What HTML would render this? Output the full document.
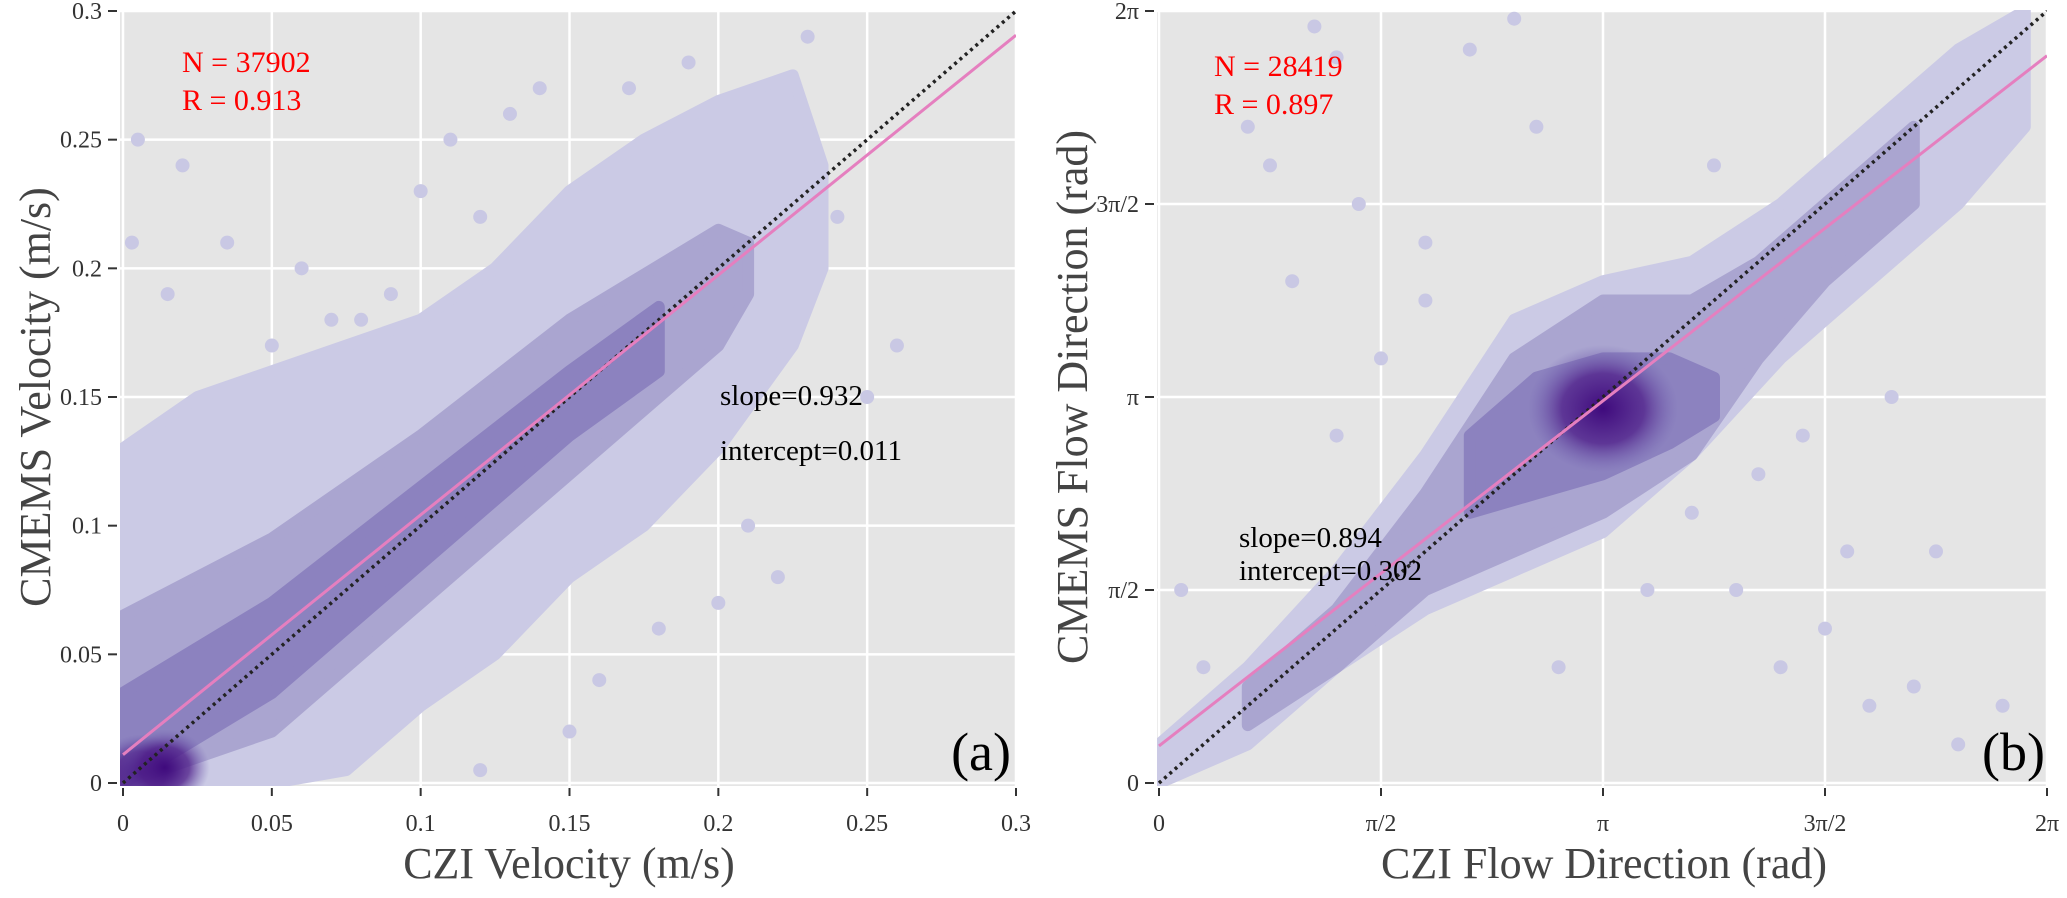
<!DOCTYPE html>
<html><head><meta charset="utf-8"><style>
body{margin:0;background:#fff}
svg{display:block;font-family:"Liberation Serif",serif}
</style></head><body>
<svg id="c" width="2067" height="898">
<defs>
<radialGradient id="dark"><stop offset="0" stop-color="#3f0a7d" stop-opacity="1"/><stop offset="0.55" stop-color="#52238c" stop-opacity="0.8"/><stop offset="1" stop-color="#7060b0" stop-opacity="0"/></radialGradient>
</defs>
</svg>
<script>
// ---- Panel (a) data (m/s) ----
const aTicks=[0,0.05,0.1,0.15,0.2,0.25,0.3];
const aTickLabels=["0","0.05","0.1","0.15","0.2","0.25","0.3"];
const aOuterX=[0,0.025,0.05,0.075,0.1,0.125,0.15,0.175,0.2,0.225,0.235];
const aOuterUp=[0.13,0.15,0.16,0.17,0.18,0.2,0.23,0.25,0.265,0.275,0.24];
const aOuterLo=[0,0,0,0.005,0.03,0.05,0.08,0.1,0.13,0.17,0.2];
const aMidX=[0,0.05,0.1,0.15,0.2,0.21];
const aMidUp=[0.065,0.095,0.135,0.18,0.215,0.21];
const aMidLo=[0,0.02,0.07,0.12,0.17,0.19];
const aCoreX=[0,0.05,0.1,0.15,0.18];
const aCoreUp=[0.035,0.07,0.115,0.16,0.185];
const aCoreLo=[0,0.035,0.085,0.135,0.16];
const aDarkX=[0.006,0.014];
const aDarkY=[0.004,0.006];
const aOutX=[0.015,0.02,0.035,0.06,0.08,0.1,0.12,0.13,0.05,0.09,0.14,0.17,0.19,0.2,0.215,0.22,0.23,0.12,0.15,0.16,0.18,0.21,0.005,0.003,0.11,0.14,0.07,0.025,0.04,0.24,0.25,0.26,0.22,0.2];
const aOutY=[0.19,0.24,0.21,0.2,0.18,0.23,0.22,0.26,0.17,0.19,0.27,0.27,0.28,0.25,0.24,0.26,0.29,0.005,0.02,0.04,0.06,0.1,0.25,0.21,0.25,0.21,0.18,0.06,0.125,0.22,0.15,0.17,0.08,0.07];
const aFit=[0.932,0.011];
// ---- Panel (b) data (units of pi) ----
const bTicks=[0,0.5,1,1.5,2];
const bTickLabels=["0","\u03c0/2","\u03c0","3\u03c0/2","2\u03c0"];
const bOuterX=[0,0.2,0.4,0.6,0.8,1.0,1.2,1.4,1.6,1.8,1.95];
const bOuterUp=[0.1,0.3,0.55,0.85,1.2,1.3,1.35,1.5,1.7,1.9,2];
const bOuterLo=[0,0.1,0.3,0.45,0.55,0.65,0.85,1.1,1.3,1.5,1.7];
const bMidX=[0.2,0.4,0.6,0.8,1.0,1.2,1.35,1.5,1.7];
const bMidUp=[0.25,0.45,0.75,1.1,1.25,1.25,1.35,1.5,1.7];
const bMidLo=[0.15,0.3,0.5,0.6,0.7,0.85,1.1,1.3,1.5];
const bCoreX=[0.7,0.85,1.0,1.15,1.25];
const bCoreUp=[0.9,1.05,1.1,1.1,1.05];
const bCoreLo=[0.7,0.75,0.8,0.88,0.95];
const bDarkX=[1.0];
const bDarkY=[0.97];
const bOutX=[0.1,0.2,0.35,0.4,0.45,0.6,0.7,0.8,1.3,1.4,1.5,1.6,1.7,1.75,1.8,1.9,0.3,0.4,0.25,0.5,0.6,0.9,1.1,1.2,1.45,1.65,1.35,0.15,0.05,1.25,1.55,0.85];
const bOutY=[0.3,1.7,1.96,1.88,1.5,1.4,1.9,1.98,0.5,0.3,0.4,0.2,0.25,0.6,0.1,0.2,1.3,0.9,1.6,1.1,1.25,0.3,0.5,0.7,0.9,1.0,0.8,0.15,0.5,1.6,0.6,1.7];
const bFit=[0.894,0.302];

const NS="http://www.w3.org/2000/svg";
const svg=document.getElementById('c');
function el(t,a,p){const e=document.createElementNS(NS,t);for(const k in a)e.setAttribute(k,a[k]);(p||svg).appendChild(e);return e;}

function panel(o){
  const g=el('g',{});
  
  
  const sx=v=>o.x0+(v-o.min)/(o.max-o.min)*(o.x1-o.x0);
  const sy=v=>o.y0-(v-o.min)/(o.max-o.min)*(o.y0-o.y1);
  const bg=el('rect',{x:o.gx0,y:o.y1-1,width:o.x1-o.gx0,height:o.y0+3-(o.y1-1),fill:'#e5e5e5'},g);
  
  
  o.ticks.forEach((t,i)=>{
    const gx=el('line',{x1:sx(t),x2:sx(t),y1:o.y1-1,y2:o.y0+3,stroke:'#fff','stroke-width':2.5},g);
    
    
    const gy=el('line',{x1:o.gx0,x2:o.x1,y1:sy(t),y2:sy(t),stroke:'#fff','stroke-width':2.5},g);
    
    
    el('line',{x1:sx(t),x2:sx(t),y1:o.y0+5,y2:o.y0+13,stroke:'#333','stroke-width':2},g);
    el('line',{x1:o.gx0-12,x2:o.gx0-3,y1:sy(t),y2:sy(t),stroke:'#333','stroke-width':2},g);
    const xl=el('text',{x:sx(t),y:o.y0+48,'font-size':24,'text-anchor':'middle',fill:'#333'},g);
    xl.textContent=o.labels[i];
    
    
    const yl=el('text',{x:o.gx0-18,y:sy(t)+8,'font-size':24,'text-anchor':'end',fill:'#333'},g);
    yl.textContent=o.labels[i];
    
    
  });
  const clip=el('clipPath',{id:'clip'+o.name},g);
  el('rect',{x:o.gx0,y:o.y1-1,width:o.x1-o.gx0,height:o.y0+4-o.y1},clip);
  const d=el('g',{'clip-path':'url(#clip'+o.name+')'},g);
  function band(X,U,L,col,name){
    let pts=X.map((x,i)=>sx(x)+','+sy(U[i]));
    pts=pts.concat(X.map((x,i)=>sx(x)+','+sy(L[i])).reverse());
    const p=el('polygon',{points:pts.join(' '),fill:col,stroke:col,'stroke-width':12,'stroke-linejoin':'round'},d);
    
    
  }
  o.outX.forEach((x,i)=>{
    const c=el('circle',{cx:sx(x),cy:sy(o.outY[i]),r:7,fill:'#c9c8e4'},d);
    
    
  });
  band(o.oX,o.oU,o.oL,'#cbcae5','density-outer');
  band(o.mX,o.mU,o.mL,'#aaa5d0','density-mid');
  band(o.cX,o.cU,o.cL,'#8c82bf','density-core');
  o.dX.forEach((x,i)=>{
    const c=el('ellipse',{cx:sx(x),cy:sy(o.dY[i]),rx:o.dr,ry:o.dr*0.85,fill:'url(#dark)'},d);
    
    
  });
  const one=el('line',{x1:sx(0),y1:sy(0),x2:sx(o.max),y2:sy(o.max),stroke:'#222','stroke-width':3.5,'stroke-dasharray':'3,4'},d);
  
  
  const f=el('line',{x1:sx(0),y1:sy(o.fit[1]),x2:sx(o.max),y2:sy(o.fit[0]*o.max+o.fit[1]),stroke:'#e57fbf','stroke-width':3},d);
  
  
  return g;
}

panel({name:'panel-a',x0:123,x1:1016,gx0:120,y0:783,y1:11,min:0,max:0.3,ticks:aTicks,labels:aTickLabels,
  oX:aOuterX,oU:aOuterUp,oL:aOuterLo,mX:aMidX,mU:aMidUp,mL:aMidLo,cX:aCoreX,cU:aCoreUp,cL:aCoreLo,
  dX:aDarkX,dY:aDarkY,dr:45,outX:aOutX,outY:aOutY,fit:aFit});
panel({name:'panel-b',x0:1159,x1:2047,gx0:1157,y0:783,y1:11,min:0,max:2,ticks:bTicks,labels:bTickLabels,
  oX:bOuterX,oU:bOuterUp,oL:bOuterLo,mX:bMidX,mU:bMidUp,mL:bMidLo,cX:bCoreX,cU:bCoreUp,cL:bCoreLo,
  dX:bDarkX,dY:bDarkY,dr:75,outX:bOutX,outY:bOutY,fit:[bFit[0],bFit[1]/Math.PI]});

function txt(x,y,s,size,col,name,extra){
  const t=el('text',Object.assign({x:x,y:y,'font-size':size,fill:col},extra||{}));
  t.textContent=s;
  
  
  return t;
}
txt(182,72,'N = 37902',30,'#ff0000','n-label-a');
txt(182,110,'R = 0.913',30,'#ff0000','r-label-a');
txt(720,405,'slope=0.932',29,'#000','slope-label-a');
txt(720,460,'intercept=0.011',29,'#000','intercept-label-a');
txt(1011,770,'(a)',54,'#000','panel-label-a',{'text-anchor':'end'});
txt(1214,76,'N = 28419',30,'#ff0000','n-label-b');
txt(1214,114,'R = 0.897',30,'#ff0000','r-label-b');
txt(1239,547,'slope=0.894',29,'#000','slope-label-b');
txt(1239,580,'intercept=0.302',29,'#000','intercept-label-b');
txt(2045,770,'(b)',54,'#000','panel-label-b',{'text-anchor':'end'});
txt(569,878,'CZI Velocity (m/s)',44,'#444','x-axis-title-a',{'text-anchor':'middle'});
txt(1604,878,'CZI Flow Direction (rad)',44,'#444','x-axis-title-b',{'text-anchor':'middle'});
txt(0,0,'CMEMS Velocity (m/s)',44,'#444','y-axis-title-a',{'text-anchor':'middle',transform:'translate(50,397) rotate(-90)'});
txt(0,0,'CMEMS Flow Direction (rad)',44,'#444','y-axis-title-b',{'text-anchor':'middle',transform:'translate(1087,397) rotate(-90)'});
</script>
</body></html>
